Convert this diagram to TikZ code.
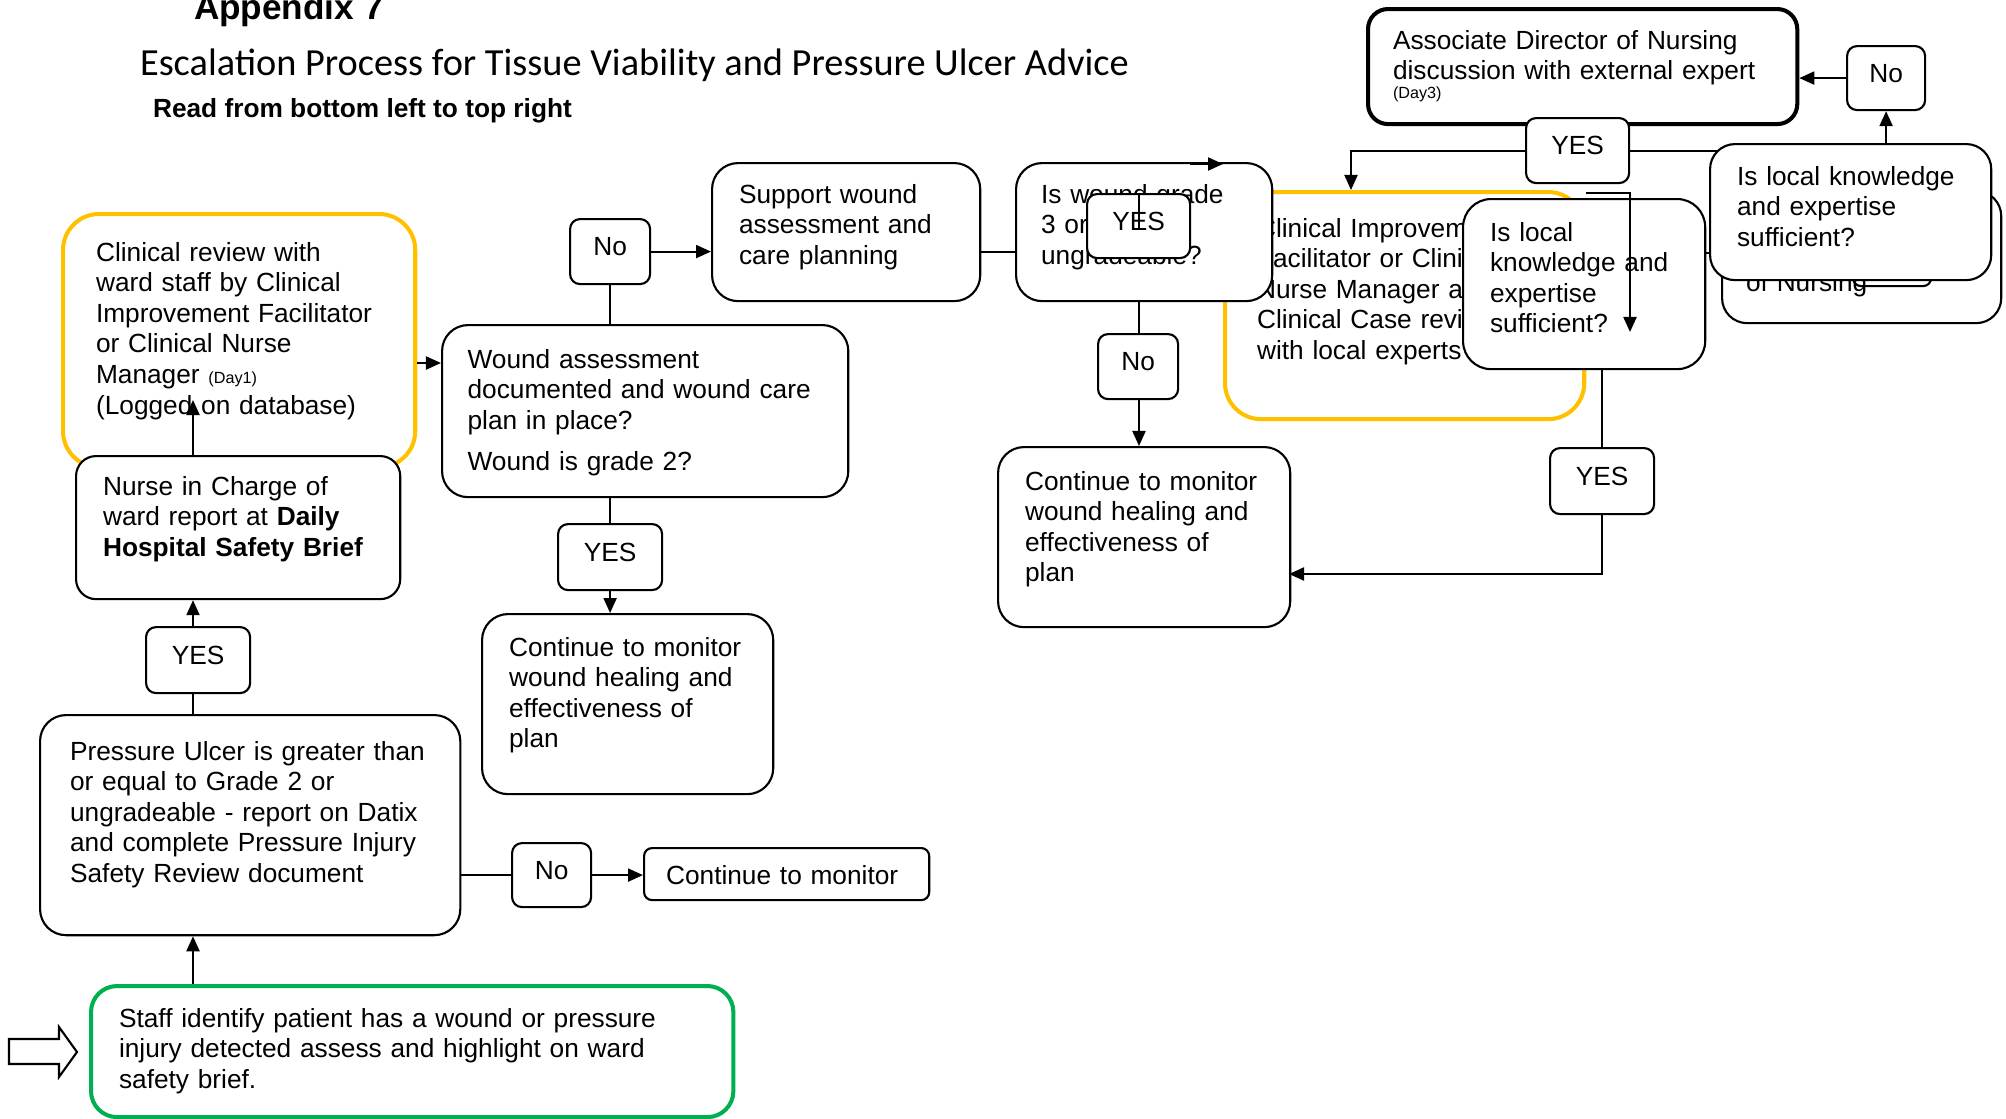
\documentclass[tikz,border=0pt]{standalone}
\usepackage{fontspec}
\setmainfont{Liberation Sans}
\newfontfamily\titlefont{Carlito}
\usetikzlibrary{arrows.meta}
\definecolor{gold}{RGB}{255,192,0}
\definecolor{okgreen}{RGB}{0,176,80}
\newcommand\boxfont{\fontsize{7.47pt}{8.7pt}\selectfont}
\newcommand\dayfont{\fontsize{4.6pt}{5.5pt}\selectfont}

\begin{document}
\begin{tikzpicture}[x=0.01cm, y=-0.01cm, line width=0.6pt,
    box/.style={draw, fill=white, rounded corners=0.26cm, anchor=north west, align=left,
      inner xsep=0.27cm, inner ysep=0pt, font=\boxfont},
    goldbox/.style={box, draw=gold, line width=1.15pt, rounded corners=0.36cm},
    tag/.style={draw, fill=white, rounded corners=0.1cm, anchor=north west, inner sep=0pt, text depth=0.1cm, font=\boxfont},
    arr/.style={-{Triangle[length=0.15cm, width=0.13cm]}}]
  \useasboundingbox (0,0) rectangle (2006,1118);

  \node[anchor=base west, inner sep=0pt, font=\bfseries\fontsize{10pt}{12pt}\selectfont] (appx) at (193,19) {Appendix 7};
  \node[anchor=base west, inner sep=0pt, font=\titlefont\fontsize{10.9pt}{13pt}\selectfont] (title) at (139,75)
    {Escalation Process for Tissue Viability and Pressure Ulcer Advice};
  \node[anchor=base west, inner sep=0pt, font=\boxfont\bfseries] (read) at (152,117) {Read from bottom left to top right};

  \node[goldbox, inner xsep=0.33cm, text width=2.86cm, text height=0.47cm, text depth=2.06cm] (clin) at (61,212)
    {Clinical review with\\ ward staff by Clinical\\ Improvement Facilitator\\ or Clinical Nurse\\ Manager {\dayfont(Day1)}\\ (Logged on database)};
  \node[box, rounded corners=0.2cm, text width=2.7cm, text height=0.39cm, text depth=1.04cm] (nurse) at (75,455)
    {Nurse in Charge of\\ ward report at \textbf{Daily}\\ \textbf{Hospital Safety Brief}};
  \node[box, inner xsep=0.3cm, text width=3.6cm, text height=0.45cm, text depth=1.75cm] (press) at (39,714)
    {Pressure Ulcer is greater than\\ or equal to Grade 2 or\\ ungradeable - report on Datix\\ and complete Pressure Injury\\ Safety Review document};
  \node[box, draw=okgreen, line width=1.15pt, inner xsep=0.28cm, text width=5.86cm, text height=0.41cm, text depth=0.9cm] (staff) at (89,984)
    {Staff identify patient has a wound or pressure\\ injury detected assess and highlight on ward\\ safety brief.};
  \node[tag, minimum width=1.04cm, minimum height=0.66cm] (yes1) at (145,626) {YES};

  \node[box, inner xsep=0.255cm, text width=3.55cm, text height=0.43cm, text depth=1.29cm] (wound) at (441,324)
    {Wound assessment\\ documented and wound care\\ plan in place?\\[0.11cm] Wound is grade 2?};
  \node[tag, minimum width=0.8cm, minimum height=0.65cm] (no1) at (569,218) {No};
  \node[box, text width=2.14cm, text height=0.4cm, text depth=0.98cm] (support) at (711,162)
    {Support wound\\ assessment and\\ care planning};

  \node[goldbox, inner xsep=0.32cm, text width=2.95cm, text height=0.45cm, text depth=1.82cm] (review) at (1223,190)
    {Clinical Improvement\\ Facilitator or Clinical\\ Nurse Manager and\\ Clinical Case review\\ with local experts};
  \node[box, inner xsep=0.25cm, text width=2.06cm, text height=0.4cm, text depth=0.98cm] (grade) at (1015,162)
    {Is wound grade\\ 3 or\\ ungradeable?};
  \node[tag, minimum width=1.03cm, minimum height=0.64cm] (yes3) at (1086,193) {YES};
  \node[tag, minimum width=0.8cm, minimum height=0.65cm] (no2) at (1097,333) {No};

  \node[box, text width=2.37cm, text height=0.42cm, text depth=1.38cm] (mon1) at (481,613)
    {Continue to monitor\\ wound healing and\\ effectiveness of\\ plan};
  \node[box, text width=2.38cm, text height=0.43cm, text depth=1.37cm] (mon2) at (997,446)
    {Continue to monitor\\ wound healing and\\ effectiveness of\\ plan};
  \node[tag, minimum width=1.04cm, minimum height=0.66cm] (yes2) at (557,523) {YES};
  \node[tag, minimum width=0.79cm, minimum height=0.64cm] (no3) at (511,842) {No};
  \node[box, rounded corners=0.08cm, inner xsep=0.22cm, text width=2.41cm, text height=0.36cm, text depth=0.16cm] (cont) at (643,847)
    {Continue to monitor};

  \node[box, line width=1.15pt, rounded corners=0.2cm, inner xsep=0.25cm, text width=3.79cm, text height=0.4cm, text depth=0.75cm] (adn) at (1366,7)
    {Associate Director of Nursing\\ discussion with external expert\\[-0.12cm] {\dayfont(Day3)}};
  \node[box, rounded corners=0.25cm, inner xsep=0.24cm, text width=2.31cm, text height=1.0cm, text depth=0.32cm] (adn2) at (1721,190)
    {of Nursing};
  \node[draw, rounded corners=0.08cm, anchor=north west, minimum width=0.78cm, minimum height=0.65cm, inner sep=0pt] (hid) at (1852,220) {};
  \node[box, rounded corners=0.28cm, text width=1.88cm, text height=0.42cm, text depth=1.28cm] (local1) at (1462,198)
    {Is local\\ knowledge and\\ expertise\\ sufficient?};
  \node[tag, minimum width=1.03cm, minimum height=0.65cm] (yes4) at (1525,117) {YES};

  \coordinate (s1) at (1704,253);
  \draw (yes4.east) -- (yes4.east -| adn2.west);
  \draw (s1) -- (s1 -| adn2.west);

  \node[box, rounded corners=0.25cm, text width=2.27cm, text height=0.41cm, text depth=0.95cm] (local2) at (1709,143)
    {Is local knowledge\\ and expertise\\ sufficient?};
  \node[tag, minimum width=0.78cm, minimum height=0.64cm] (no4) at (1846,45) {No};
  \node[tag, minimum width=1.04cm, minimum height=0.66cm] (yes5) at (1549,447) {YES};

  \coordinate (logged) at (193,400);
  \coordinate (w1) at (441,363);
  \coordinate (gcut) at (1139,230);
  \coordinate (gt1) at (1190,164);
  \coordinate (gt2) at (1223,164);
  \coordinate (rv) at (1351,190);
  \coordinate (chk) at (1630,332);
  \coordinate (m2) at (1289,574);

  \draw[arr] (staff.north -| logged) -- (press.south -| logged);
  \draw (press.north -| logged) -- (yes1.south -| logged);
  \draw[arr] (yes1.north -| logged) -- (nurse.south -| logged);
  \draw[arr] (nurse.north -| logged) -- (logged);
  \draw[arr] (clin.east |- w1) -- (w1);
  \draw (wound.north -| no1) -- (no1.south);
  \draw[arr] (no1.east) -- (no1.east -| support.west);
  \draw (support.east |- no1.east) -- (grade.west |- no1.east);
  \draw (gcut |- yes3.north) -- (gcut);
  \draw[arr] (gt1) -- (gt2);
  \draw (grade.south -| gcut) -- (no2.north -| gcut);
  \draw[arr] (no2.south -| gcut) -- (mon2.north -| gcut);
  \draw (wound.south -| yes2) -- (yes2.north);
  \draw[arr] (yes2.south) -- (mon1.north -| yes2);
  \draw (press.east |- no3) -- (no3.west);
  \draw[arr] (no3.east) -- (no3.east -| cont.west);
  \draw[arr] (yes4.west) -| (rv);
  \draw[arr] ([yshift=-0.03cm]review.north east) -| (chk);
  \draw (local1.south -| yes5) -- (yes5.north);
  \draw[arr] (yes5.south) |- (m2);
  \draw[arr] (local2.north -| no4) -- (no4.south);
  \draw[arr] (no4.west) -- (no4.west -| adn.east);
  \draw (9,1039) -- (59,1039) -- (59,1027) -- (77,1052) -- (59,1077) -- (59,1064) -- (9,1064) -- cycle;
\end{tikzpicture}
\end{document}
